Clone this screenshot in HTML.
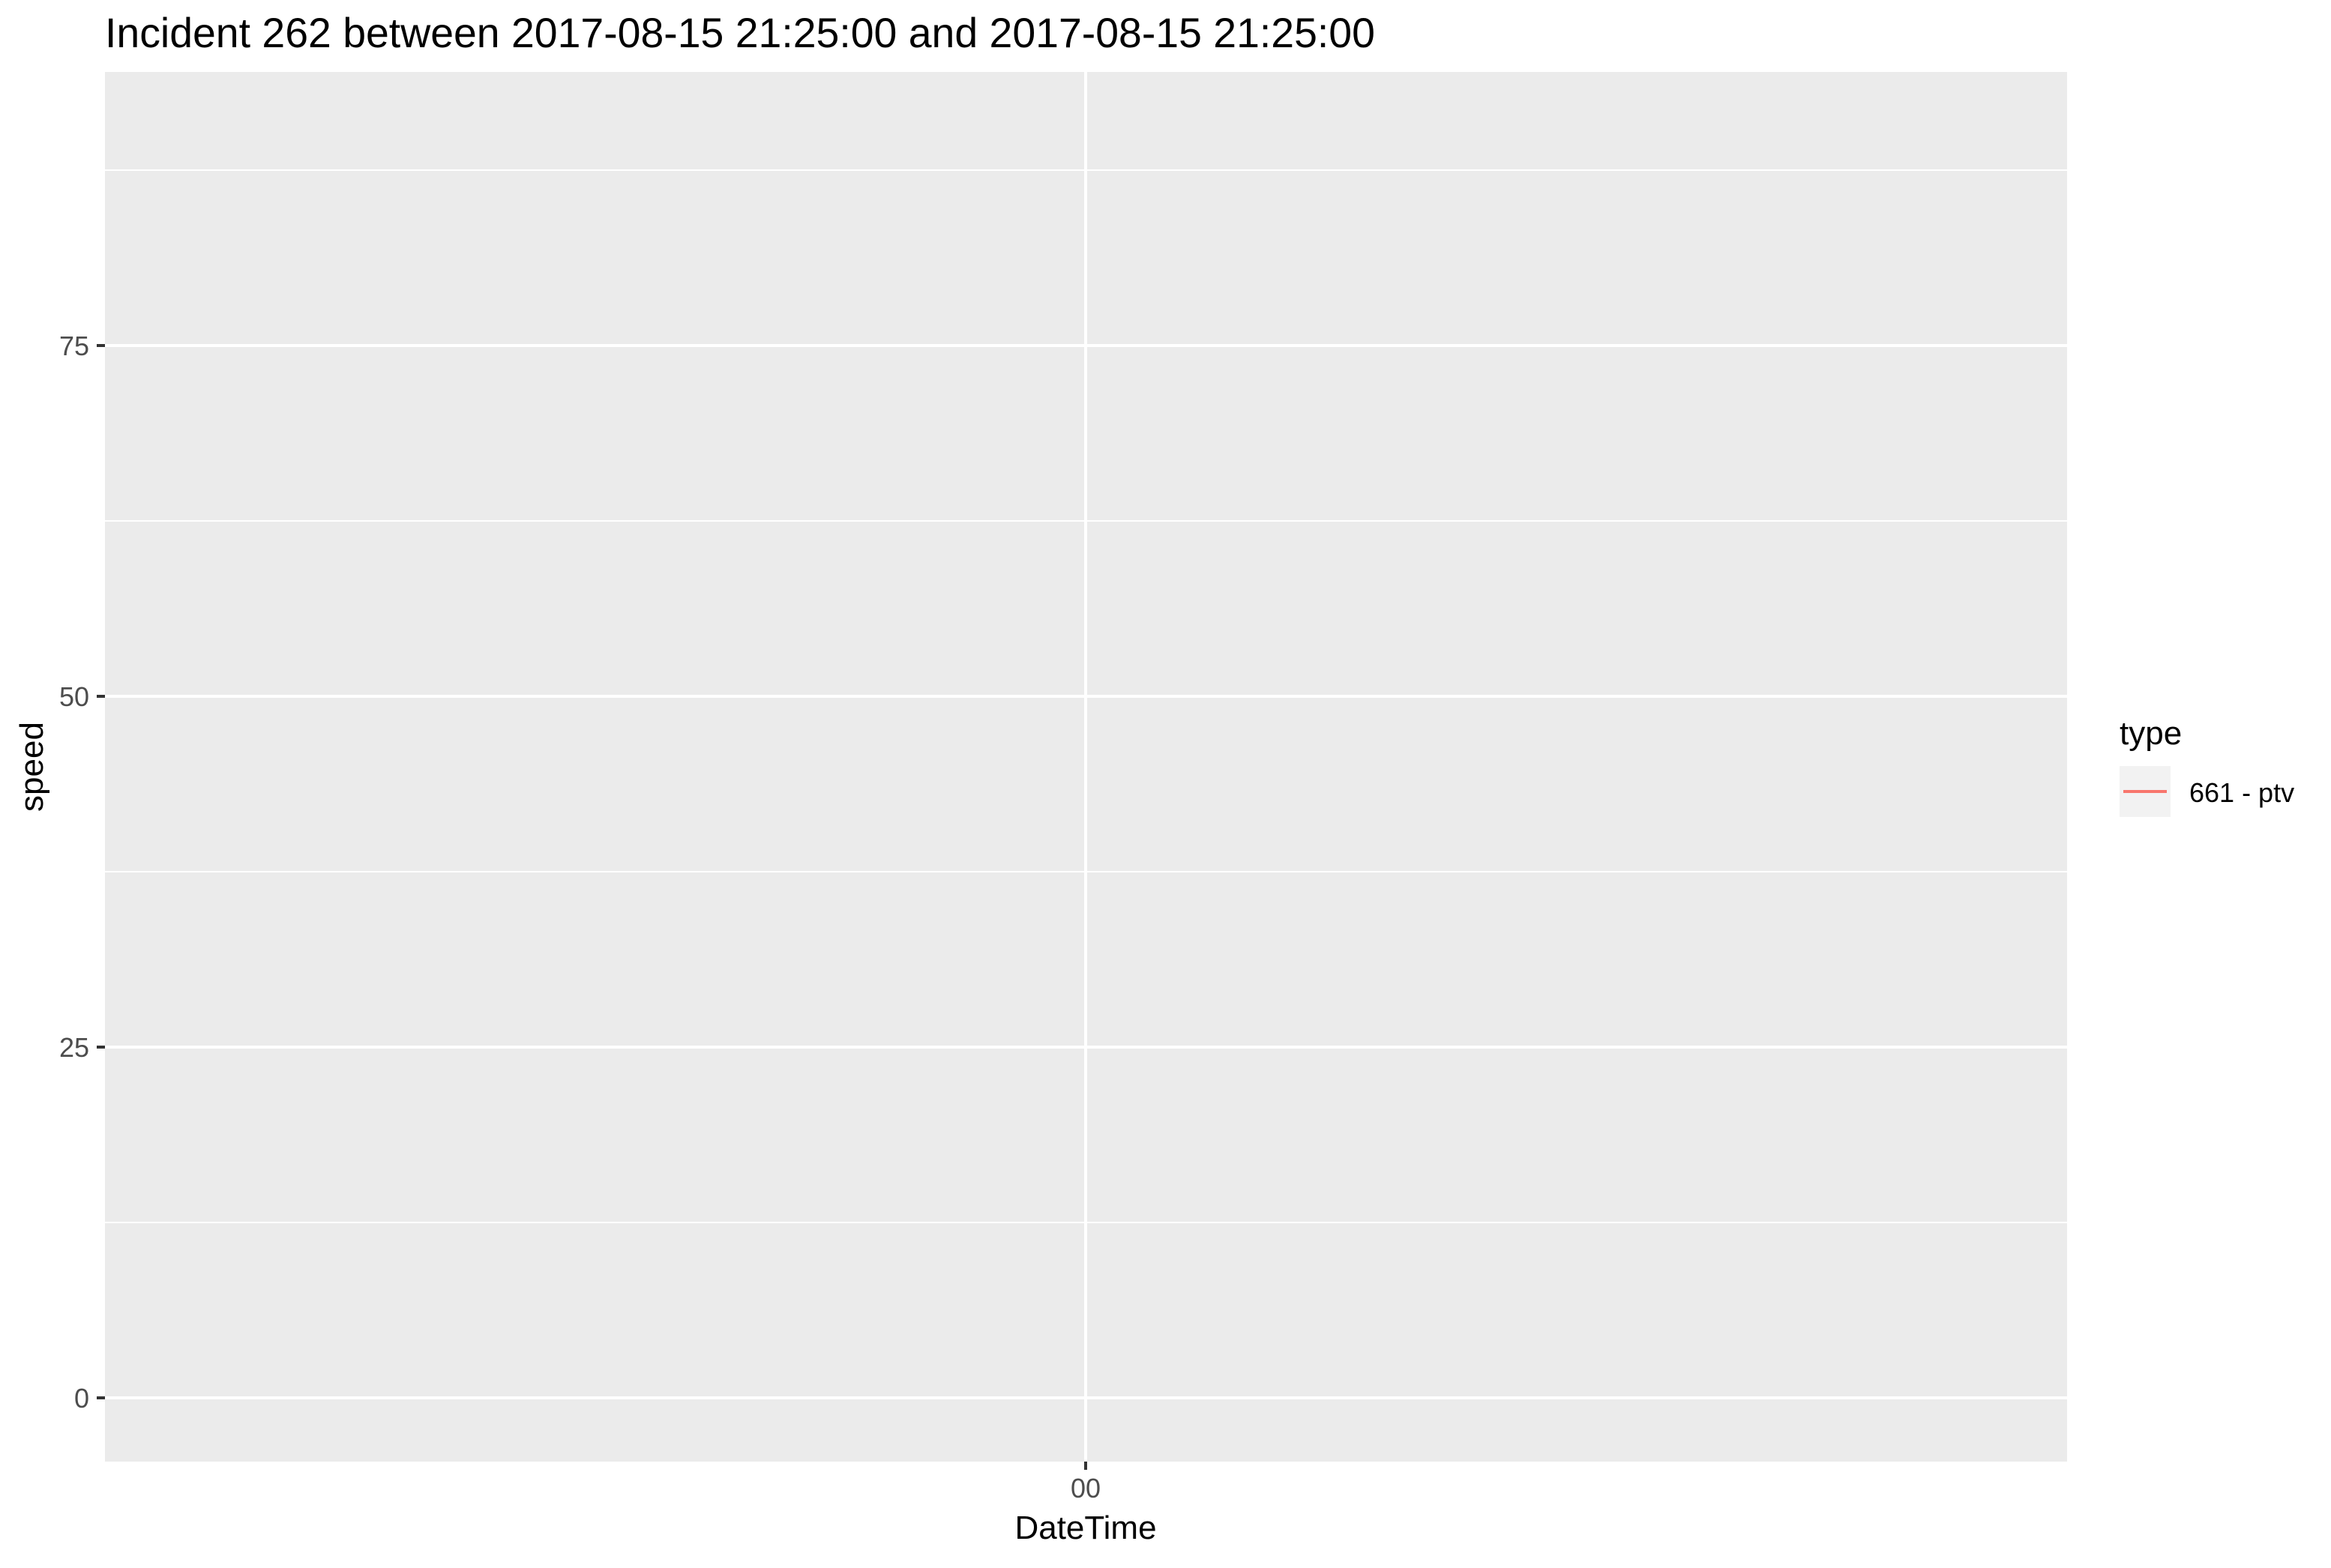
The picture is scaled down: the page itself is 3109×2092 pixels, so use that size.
<!DOCTYPE html>
<html><head><meta charset="utf-8"><style>
body{margin:0;background:#fff;}
svg text{font-family:"Liberation Sans",Arial,sans-serif;}
</style></head><body>
<svg id="chart" width="3109" height="2087" viewBox="0 0 3109 2087" xmlns="http://www.w3.org/2000/svg">
<rect x="0" y="0" width="3109" height="2087" fill="#fff"/>
<text x="140" y="63" font-size="55.4" fill="#000">Incident 262 between 2017-08-15 21:25:00 and 2017-08-15 21:25:00</text>
<rect x="140" y="96" width="2617" height="1854" fill="#EBEBEB"/>
<g id="grid"></g>
<g id="yaxis"></g>
<g id="xaxis"></g>
<g id="series"></g>
<text x="1448" y="2053" font-size="44" text-anchor="middle" fill="#000">DateTime</text>
<text x="0" y="0" font-size="44" text-anchor="middle" fill="#000" transform="translate(57,1023) rotate(-90)">speed</text>
<g>
<text x="2827" y="993" font-size="44" fill="#000">type</text>
<g>
<rect x="2827" y="1022" width="68" height="68" fill="#F2F2F2"/>
<line x1="2832" y1="1056" x2="2890" y2="1056" stroke="#F8766D" stroke-width="4"/>
<text x="2920" y="1070" font-size="36" fill="#000">661 - ptv</text>
</g>
</g>
</svg>
<script>
const yTicks = [0, 25, 50, 75];
const yMinor = [12.5, 37.5, 62.5, 87.5];
const xTickLabels = ["00"];
const xTickValues = [0];
const seriesX = [0];
const seriesY = [50];
const NS = "http://www.w3.org/2000/svg";
const panel = {x0:140, x1:2757, y0:96, y1:1950};
function yScale(v){ return 1865 - v*18.72; }
function xScale(v){ return 1448 + v*1000; }
function mk(tag, attrs, parent){ const e=document.createElementNS(NS,tag); for(const k in attrs) e.setAttribute(k,attrs[k]); parent.appendChild(e); return e; }
const grid=document.getElementById('grid'), ya=document.getElementById('yaxis'), xa=document.getElementById('xaxis'), sg=document.getElementById('series');
yMinor.forEach(v=>{
  const l=mk('line',{x1:panel.x0,x2:panel.x1,y1:yScale(v),y2:yScale(v),stroke:'#fff','stroke-width':2},grid);
  
  
});
yTicks.forEach(v=>{
  const y=yScale(v);
  const l=mk('line',{x1:panel.x0,x2:panel.x1,y1:y,y2:y,stroke:'#fff','stroke-width':4},grid);
  
  
  const t=mk('line',{x1:129,x2:140,y1:y,y2:y,stroke:'#333','stroke-width':4},ya);
  
  
  const tx=mk('text',{x:119,y:y+13,'font-size':36,'text-anchor':'end',fill:'#4D4D4D'},ya);
  tx.textContent=v;
  
  
});
xTickValues.forEach((v,i)=>{
  const x=xScale(v);
  const l=mk('line',{x1:x,x2:x,y1:panel.y0,y2:panel.y1,stroke:'#fff','stroke-width':4},grid);
  
  
  const t=mk('line',{x1:x,x2:x,y1:1950,y2:1961,stroke:'#333','stroke-width':4},xa);
  
  
  const tx=mk('text',{x:x,y:1998,'font-size':36,'text-anchor':'middle',fill:'#4D4D4D'},xa);
  tx.textContent=xTickLabels[i];
  
  
});
let d='';
seriesX.forEach((v,i)=>{ d+=(i?'L':'M')+xScale(v)+' '+yScale(seriesY[i]); });
const p=mk('path',{d:d,fill:'none',stroke:'#F8766D','stroke-width':4},sg);


</script>
</body></html>
